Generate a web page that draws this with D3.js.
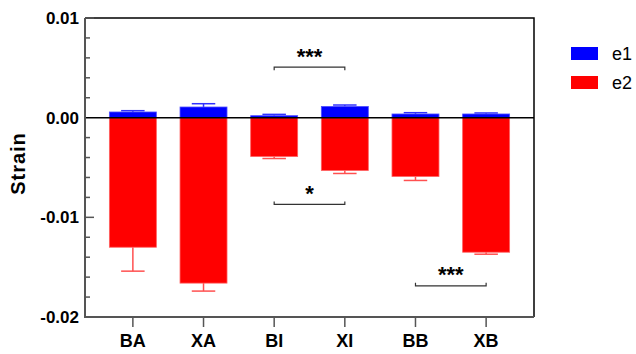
<!DOCTYPE html>
<html>
<head>
<meta charset="utf-8">
<script src="https://cdn.jsdelivr.net/npm/d3@7"></script>
<style>
  body { margin: 0; background: #fff; }
  text { font-family: Arial, "Liberation Sans", sans-serif; }
</style>
</head>
<body>
<svg id="chart" width="636" height="354"></svg>
<script>
// values
var categories = ["BA", "XA", "BI", "XI", "BB", "XB"];
var e1 = [0.00057, 0.00107, 0.0002, 0.00113, 0.00037, 0.00037];
var e1Err = [0.00013, 0.00033, 0.00013, 0.00014, 0.00013, 0.0001];
var e2 = [-0.0130, -0.0166, -0.0039, -0.0053, -0.0059, -0.0135];
var e2Err = [0.0024, 0.0008, 0.0002, 0.0003, 0.0004, 0.0002];
var yTicks = [0.01, 0.00, -0.01, -0.02];
var yTickLabels = ["0.01", "0.00", "-0.01", "-0.02"];
var yMinorTicks = d3.range(-0.02, 0.0101, 0.002);
var seriesNames = ["e1", "e2"];
var seriesColors = ["#0000ff", "#ff0000"];
var brackets = [
  {from: "BI", to: "XI", y: 0.00507, label: "***", up: false},
  {from: "BI", to: "XI", y: -0.0087, label: "*", up: true},
  {from: "BB", to: "XB", y: -0.01687, label: "***", up: true}
];

var svg = d3.select("#chart");
var plotLeft = 85, plotRight = 534, plotTop = 18, plotBottom = 317;

var x = d3.scaleBand()
  .domain(categories)
  .range([plotLeft, plotRight])
  .paddingInner(0.335)
  .paddingOuter(0.345);

var y = d3.scaleLinear()
  .domain([-0.02, 0.01])
  .range([plotBottom, plotTop]);

var bw = x.bandwidth();
var capW = bw / 2;

categories.forEach(function(c, i) {
  var cx = x(c) + bw / 2;
  var g = svg.append("g");
  // e2 (negative) with error bar
  g.append("line")
    .attr("x1", cx).attr("x2", cx)
    .attr("y1", y(e2[i])).attr("y2", y(e2[i] - e2Err[i]))
    .attr("stroke", "#ff5050").attr("stroke-width", 1.5);
  g.append("line")
    .attr("x1", cx - capW / 2).attr("x2", cx + capW / 2)
    .attr("y1", y(e2[i] - e2Err[i])).attr("y2", y(e2[i] - e2Err[i]))
    .attr("stroke", "#ff5050").attr("stroke-width", 1.5);
  g.append("rect")
    .attr("x", x(c)).attr("width", bw)
    .attr("y", y(0)).attr("height", y(e2[i]) - y(0))
    .attr("fill", seriesColors[1])
    .attr("stroke", "#ff6060").attr("stroke-width", 0.8);

  // e1 (positive) with error bar
  g.append("line")
    .attr("x1", cx).attr("x2", cx)
    .attr("y1", y(e1[i])).attr("y2", y(e1[i] + e1Err[i]))
    .attr("stroke", "#3030ff").attr("stroke-width", 1.5);
  g.append("line")
    .attr("x1", cx - capW / 2).attr("x2", cx + capW / 2)
    .attr("y1", y(e1[i] + e1Err[i])).attr("y2", y(e1[i] + e1Err[i]))
    .attr("stroke", "#3030ff").attr("stroke-width", 1.5);
  g.append("rect")
    .attr("x", x(c)).attr("width", bw)
    .attr("y", y(e1[i])).attr("height", y(0) - y(e1[i]))
    .attr("fill", seriesColors[0])
    .attr("stroke", "#5050ff").attr("stroke-width", 0.8);
});

// zero line
svg.append("line")
  .attr("x1", plotLeft).attr("x2", plotRight)
  .attr("y1", y(0)).attr("y2", y(0))
  .attr("stroke", "#000").attr("stroke-width", 1.5);

// frame: top and right
svg.append("path")
  .attr("d", "M" + plotLeft + "," + plotTop + "H" + plotRight + "V" + plotBottom)
  .attr("fill", "none").attr("stroke", "#000").attr("stroke-width", 1.5);

// y axis, ticks pointing inward
var yAxis = svg.append("g").attr("transform", "translate(" + plotLeft + ",0)");
yAxis.append("line")
  .attr("x1", 0).attr("x2", 0).attr("y1", plotTop).attr("y2", plotBottom + 1)
  .attr("stroke", "#555").attr("stroke-width", 2);
yMinorTicks.forEach(function(t) {
  var major = yTicks.some(function(m) { return Math.abs(m - t) < 1e-9; });
  if (Math.abs(t) < 1e-9) return;
  yAxis.append("line")
    .attr("x1", 0).attr("x2", major ? 9 : 5)
    .attr("y1", y(t)).attr("y2", y(t))
    .attr("stroke", "#555").attr("stroke-width", 1.5);
});
yTicks.forEach(function(t, i) {
  yAxis.append("text")
    .attr("x", -6).attr("y", y(t))
    .attr("dy", "0.36em")
    .attr("text-anchor", "end")
    .attr("font-size", 17).attr("font-weight", "bold")
    .text(yTickLabels[i]);
});

// x axis
var xAxis = svg.append("g").attr("transform", "translate(0," + plotBottom + ")");
xAxis.append("line")
  .attr("x1", plotLeft - 1).attr("x2", plotRight).attr("y1", 0).attr("y2", 0)
  .attr("stroke", "#555").attr("stroke-width", 2);
categories.forEach(function(c) {
  var cx = x(c) + bw / 2;
  xAxis.append("line")
    .attr("x1", cx).attr("x2", cx).attr("y1", 0).attr("y2", 10)
    .attr("stroke", "#555").attr("stroke-width", 1.5);
  xAxis.append("text")
    .attr("x", cx).attr("y", 30)
    .attr("text-anchor", "middle")
    .attr("font-size", 18).attr("font-weight", "bold")
    .text(c);
});

// y label
svg.append("text")
  .attr("transform", "translate(25," + ((plotTop + plotBottom) / 2 - 4) + ") rotate(-90)")
  .attr("text-anchor", "middle")
  .attr("font-size", 20).attr("font-weight", "bold")
  .attr("letter-spacing", 1)
  .text("Strain");

// significance brackets
brackets.forEach(function(b) {
  var x1 = x(b.from) + bw / 2, x2 = x(b.to) + bw / 2, by = y(b.y);
  var d = b.up ? -3 : 3;
  svg.append("path")
    .attr("d", "M" + x1 + "," + (by + d) + "V" + by + "H" + x2 + "V" + (by + d))
    .attr("fill", "none").attr("stroke", "#333").attr("stroke-width", 1.2);
  svg.append("text")
    .attr("x", (x1 + x2) / 2).attr("y", by - 3.5)
    .attr("text-anchor", "middle")
    .attr("font-size", 22).attr("font-weight", "bold")
    .text(b.label);
});

// legend
var legend = svg.append("g");
seriesNames.forEach(function(n, i) {
  legend.append("rect")
    .attr("x", 571).attr("y", 47 + i * 29)
    .attr("width", 27).attr("height", 13)
    .attr("fill", seriesColors[i]);
  legend.append("text")
    .attr("x", 612).attr("y", 47 + i * 29 + 6.5)
    .attr("dy", "0.36em")
    .attr("font-size", 18)
    .text(n);
});
</script>
</body>
</html>
